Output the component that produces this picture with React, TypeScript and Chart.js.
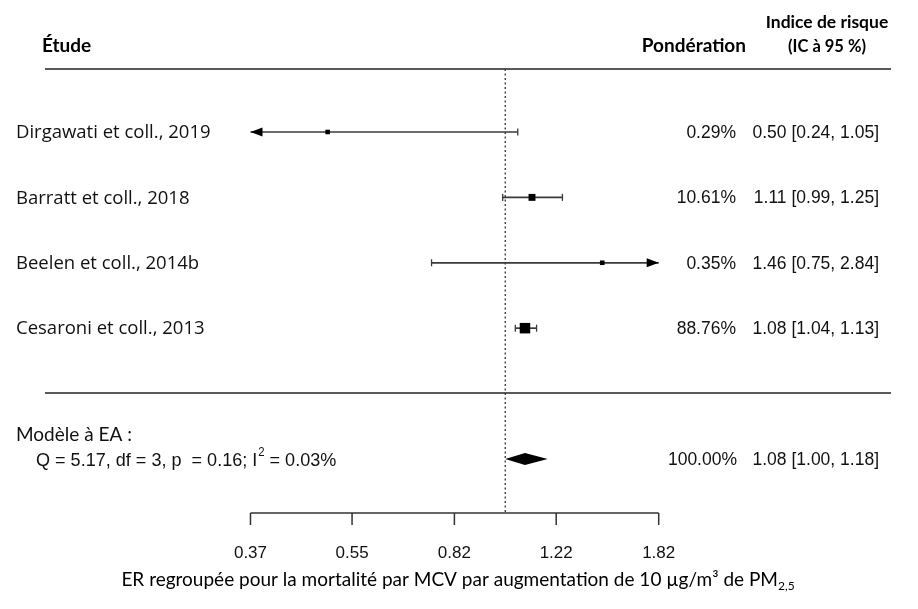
import { useEffect, useRef } from 'react';
import { Chart, registerables } from 'chart.js';

Chart.register(...registerables);

// ---- data ----
const studies = ['Dirgawati et coll., 2019', 'Barratt et coll., 2018', 'Beelen et coll., 2014b', 'Cesaroni et coll., 2013'];
const rows = [1, 2, 3, 4];
const weights = [0.29, 10.61, 0.35, 88.76];
const estimates = [0.5, 1.11, 1.46, 1.08];
const lowers = [0.24, 0.99, 0.75, 1.04];
const uppers = [1.05, 1.25, 2.84, 1.13];

const summaryRow = 6;
const summaryTitle = 'Modèle à EA :';
const summaryStatsMain = 'Q = 5.17, df = 3, p  = 0.16; I';
const summaryStatsSup = '2';
const summaryStatsEnd = ' = 0.03%';
const summaryWeight = 100.0;
const summaryEstimate = 1.08;
const summaryLower = 1.0;
const summaryUpper = 1.18;

const tickLabels = ['0.37', '0.55', '0.82', '1.22', '1.82'];
const headerStudy = 'Étude';
const headerWeight = 'Pondération';
const headerRisk1 = 'Indice de risque';
const headerRisk2 = '(IC à 95 %)';
const axisTitleMain = 'ER regroupée pour la mortalité par MCV par augmentation de 10 µg/m³ de PM';
const axisTitleSub = '2,5';

const fmt2 = (v: number) => v.toFixed(2);
const ciText = (e: number, l: number, u: number) => `${fmt2(e)} [${fmt2(l)}, ${fmt2(u)}]`;

const maxW = Math.max(...weights);
const markerSide = (w: number) => 3.5 + 7 * Math.cbrt(w / maxW);

const forestPlugin = {
  id: 'forest',
  beforeDatasetsDraw(chart: any) {
    const ctx: CanvasRenderingContext2D = chart.ctx;
    const xs = chart.scales.x;
    const ys = chart.scales.y;
    const px = (v: number) => xs.getPixelForValue(Math.log(v));
    const axMin = parseFloat(tickLabels[0]);
    const axMax = parseFloat(tickLabels[tickLabels.length - 1]);
    const topLineY = 69;
    const midLineY = 393;
    const axisY = 513;

    ctx.save();
    // horizontal separators
    ctx.strokeStyle = '#5a5a5a';
    ctx.lineWidth = 2;
    [topLineY, midLineY].forEach((y) => {
      ctx.beginPath();
      ctx.moveTo(45, y);
      ctx.lineTo(891, y);
      ctx.stroke();
    });

    // reference line at 1
    ctx.strokeStyle = '#333';
    ctx.lineWidth = 1.3;
    ctx.setLineDash([2, 2.5]);
    ctx.beginPath();
    ctx.moveTo(px(1), topLineY);
    ctx.lineTo(px(1), axisY);
    ctx.stroke();
    ctx.setLineDash([]);

    // CIs
    const arrow = (x: number, y: number, dir: number) => {
      ctx.fillStyle = '#000';
      ctx.beginPath();
      ctx.moveTo(x, y);
      ctx.lineTo(x - dir * 12, y - 4.5);
      ctx.lineTo(x - dir * 12, y + 4.5);
      ctx.closePath();
      ctx.fill();
    };
    const cap = (x: number, y: number) => {
      ctx.beginPath();
      ctx.moveTo(x, y - 3.5);
      ctx.lineTo(x, y + 3.5);
      ctx.stroke();
    };
    studies.forEach((_, i) => {
      const y = ys.getPixelForValue(rows[i]);
      const lo = Math.max(lowers[i], axMin);
      const hi = Math.min(uppers[i], axMax);
      ctx.strokeStyle = '#3a3a3a';
      ctx.lineWidth = 1.7;
      ctx.beginPath();
      ctx.moveTo(px(lo), y);
      ctx.lineTo(px(hi), y);
      ctx.stroke();
      ctx.lineWidth = 1.3;
      if (lowers[i] < axMin) arrow(px(axMin), y, -1);
      else cap(px(lowers[i]), y);
      if (uppers[i] > axMax) arrow(px(axMax), y, 1);
      else cap(px(uppers[i]), y);
    });

    // summary diamond
    const sy = ys.getPixelForValue(summaryRow);
    ctx.fillStyle = '#000';
    ctx.beginPath();
    ctx.moveTo(px(summaryLower), sy);
    ctx.lineTo(px(summaryEstimate), sy - 6);
    ctx.lineTo(px(summaryUpper), sy);
    ctx.lineTo(px(summaryEstimate), sy + 6);
    ctx.closePath();
    ctx.fill();

    // axis
    ctx.strokeStyle = '#333';
    ctx.lineWidth = 1.5;
    ctx.beginPath();
    ctx.moveTo(px(axMin), axisY);
    ctx.lineTo(px(axMax), axisY);
    ctx.stroke();
    ctx.fillStyle = '#111';
    ctx.font = '17px "Liberation Sans"';
    ctx.textAlign = 'center';
    ctx.textBaseline = 'middle';
    tickLabels.forEach((t) => {
      const x = px(parseFloat(t));
      ctx.beginPath();
      ctx.moveTo(x, axisY);
      ctx.lineTo(x, axisY + 12);
      ctx.stroke();
      ctx.fillText(t, x, 553);
    });

    // axis title
    ctx.font = '19px Lato';
    ctx.fillStyle = '#000';
    ctx.textAlign = 'left';
    const wMain = ctx.measureText(axisTitleMain).width;
    ctx.font = '12px Lato';
    const wSub = ctx.measureText(axisTitleSub).width;
    const startX = 458 - (wMain + wSub) / 2;
    ctx.font = '19px Lato';
    ctx.fillText(axisTitleMain, startX, 580);
    ctx.font = '12px Lato';
    ctx.fillText(axisTitleSub, startX + wMain, 586);

    // headers
    ctx.font = 'bold 19px Lato';
    ctx.textAlign = 'left';
    ctx.fillText(headerStudy, 42, 46);
    ctx.textAlign = 'right';
    ctx.fillText(headerWeight, 746, 46);
    ctx.textAlign = 'center';
    ctx.font = 'bold 17.5px Lato';
    ctx.fillText(headerRisk1, 827, 22);
    ctx.font = 'bold 16.5px Lato';
    ctx.fillText(headerRisk2, 827, 47);

    // study labels & values
    studies.forEach((s, i) => {
      const y = ys.getPixelForValue(rows[i]);
      ctx.fillStyle = '#111';
      ctx.font = '18.5px "Open Sans"';
      ctx.textAlign = 'left';
      ctx.fillText(s, 16, y + 1);
      ctx.font = '17.5px "Liberation Sans"';
      ctx.textAlign = 'right';
      ctx.fillText(`${fmt2(weights[i])}%`, 736, y + 1);
      ctx.fillText(ciText(estimates[i], lowers[i], uppers[i]), 879, y + 1);
    });

    // summary texts
    ctx.fillStyle = '#111';
    ctx.font = '19px Lato';
    ctx.textAlign = 'left';
    ctx.fillText(summaryTitle, 16, 435);
    ctx.font = '19px "Liberation Sans"';
    ctx.save();
    ctx.translate(36, sy + 2);
    ctx.scale(0.95, 1);
    const w1 = ctx.measureText(summaryStatsMain).width;
    ctx.fillText(summaryStatsMain, 0, 0);
    ctx.font = '12px "Liberation Sans"';
    ctx.fillText(summaryStatsSup, w1 + 1, -8);
    const w2 = ctx.measureText(summaryStatsSup).width;
    ctx.font = '19px "Liberation Sans"';
    ctx.fillText(summaryStatsEnd, w1 + w2 + 1, 0);
    ctx.restore();
    ctx.font = '17.5px "Liberation Sans"';
    ctx.textAlign = 'right';
    ctx.fillText(`${fmt2(summaryWeight)}%`, 737, sy + 1);
    ctx.fillText(ciText(summaryEstimate, summaryLower, summaryUpper), 879, sy + 1);

    ctx.restore();
  },
};

export default function App() {
  const ref = useRef<HTMLCanvasElement | null>(null);
  useEffect(() => {
    document.body.style.margin = '0';
    const canvas = ref.current;
    if (!canvas) return;
    const chart = new Chart(canvas, {
      type: 'scatter',
      data: {
        datasets: [
          {
            data: estimates.map((e, i) => ({ x: Math.log(e), y: rows[i] })),
            pointStyle: 'rect',
            pointRadius: weights.map((w) => markerSide(w) / Math.SQRT2),
            pointHoverRadius: weights.map((w) => markerSide(w) / Math.SQRT2),
            backgroundColor: '#000',
            borderColor: '#000',
            borderWidth: 0,
          },
        ],
      },
      options: {
        animation: false,
        responsive: true,
        maintainAspectRatio: false,
        layout: { padding: 0, autoPadding: false },
        plugins: { legend: { display: false }, tooltip: { enabled: false } },
        events: [],
        scales: {
          x: { type: 'linear', display: false, min: -1.9717, max: 1.6107 },
          y: { type: 'linear', display: false, reverse: true, min: -1.018, max: 8.294 },
        },
      },
      plugins: [forestPlugin],
    });
    return () => chart.destroy();
  }, []);
  return (
    <div style={{ position: 'absolute', left: 0, top: 0, width: 918, height: 609, background: '#fff' }}>
      <canvas ref={ref} />
    </div>
  );
}
